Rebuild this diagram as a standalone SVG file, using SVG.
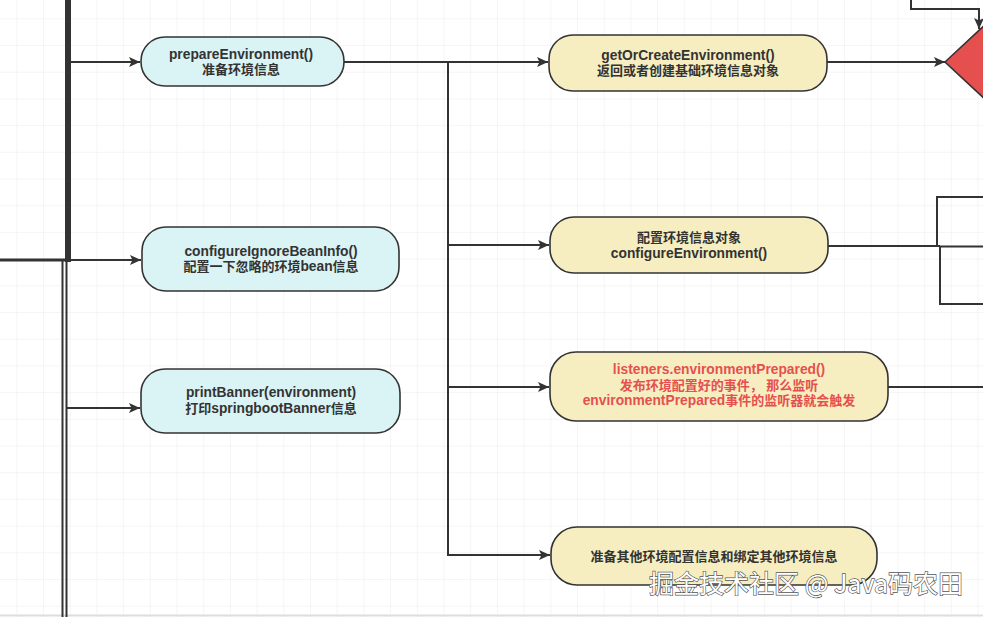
<svg xmlns="http://www.w3.org/2000/svg" width="983" height="617" viewBox="0 0 983 617">
<style>
.cn{fill:none;stroke:#333;stroke-width:2}
.blue{fill:#daf3f5;stroke:#333;stroke-width:1.6}
.yel{fill:#f6eec0;stroke:#333;stroke-width:1.6}
.t{font-family:"Liberation Sans","Noto Sans CJK SC",sans-serif;font-size:13px;font-weight:bold;fill:#333;text-anchor:middle}
.L{font-size:13.8px}
.red{fill:#e5504f}
.wm{font-family:"Noto Sans CJK SC",sans-serif;font-size:25px;fill:#fff;stroke:#555;stroke-width:1.3;paint-order:stroke}
</style>
<defs>
<pattern id="grid" width="26.7" height="26.7" patternUnits="userSpaceOnUse" patternTransform="translate(16.3 18.3)">
<path d="M0 0H26.7M0 0V26.7" fill="none" stroke="#ececec" stroke-width="1"/>
</pattern>
<marker id="ar" markerUnits="userSpaceOnUse" markerWidth="12" markerHeight="10" refX="11" refY="5" orient="auto">
<path d="M0 0L11 5L0 10L2.5 5Z" fill="#333"/>
</marker>
</defs>
<rect width="983" height="617" fill="#fff"/>
<rect width="983" height="617" fill="url(#grid)"/>
<line x1="0" y1="615.5" x2="983" y2="615.5" stroke="#ddd" stroke-width="2"/>

<g id="connectors">
<rect x="65" y="0" width="6" height="262" fill="#333"/>
<line x1="0" y1="260" x2="70" y2="260" stroke="#333" stroke-width="3"/>
<line x1="62.5" y1="259" x2="62.5" y2="617" stroke="#333" stroke-width="2"/>
<line x1="66.5" y1="259" x2="66.5" y2="617" stroke="#333" stroke-width="2"/>
<path class="cn" d="M71 62H140" marker-end="url(#ar)"/>
<path class="cn" d="M71 260H141" marker-end="url(#ar)"/>
<path class="cn" d="M67 408H140" marker-end="url(#ar)"/>
<path class="cn" d="M344 62H548" marker-end="url(#ar)"/>
<path class="cn" d="M448 62V555H550" marker-end="url(#ar)"/>
<path class="cn" d="M448 245H549" marker-end="url(#ar)"/>
<path class="cn" d="M448 387H549" marker-end="url(#ar)"/>
<path class="cn" d="M827 62H945" marker-end="url(#ar)"/>
<path class="cn" d="M911 0V9H979V29" marker-end="url(#ar)"/>
<path class="cn" d="M828 246H940"/>
<path class="cn" d="M937 246V197H983"/>
<path class="cn" d="M940 246V304H983"/>
<path class="cn" d="M940 246.5H983"/>
<path class="cn" d="M888 387H983"/>
</g>

<g id="diamond">
<polygon points="945,62 1003,8 1061,62 1003,116" fill="#e5504f" stroke="#333" stroke-width="1.6"/>
</g>

<g id="prepareEnvironment">
<rect class="blue" x="141" y="37" width="203" height="49" rx="24"/>
<text class="t L" x="241" y="59">prepareEnvironment()</text>
<text class="t" x="241" y="74">准备环境信息</text>
</g>
<g id="configureIgnoreBeanInfo">
<rect class="blue" x="142" y="227" width="257" height="64" rx="24"/>
<text class="t L" x="271" y="256">configureIgnoreBeanInfo()</text>
<text class="t" x="271" y="271">配置一下忽略的环境<tspan class="L">bean</tspan>信息</text>
</g>
<g id="printBanner">
<rect class="blue" x="141" y="369" width="259" height="64" rx="24"/>
<text class="t L" x="271" y="397">printBanner(environment)</text>
<text class="t" x="271" y="413">打印<tspan class="L">springbootBanner</tspan>信息</text>
</g>
<g id="getOrCreateEnvironment">
<rect class="yel" x="549" y="35" width="278" height="56" rx="24"/>
<text class="t L" x="688" y="60">getOrCreateEnvironment()</text>
<text class="t" x="688" y="75">返回或者创建基础环境信息对象</text>
</g>
<g id="configureEnvironment">
<rect class="yel" x="550" y="217" width="278" height="56" rx="24"/>
<text class="t" x="689" y="242">配置环境信息对象</text>
<text class="t L" x="689" y="258">configureEnvironment()</text>
</g>
<g id="environmentPrepared">
<rect class="yel" x="550" y="352" width="338" height="69" rx="26"/>
<text class="t L red" x="719" y="374">listeners.environmentPrepared()</text>
<text class="t red" x="719" y="390">发布环境配置好的事件， 那么监听</text>
<text class="t red" x="719" y="405"><tspan class="L">environmentPrepared</tspan>事件的监听器就会触发</text>
</g>
<g id="prepareOther">
<rect class="yel" x="551" y="527" width="326" height="58" rx="26"/>
<text class="t" x="714" y="561">准备其他环境配置信息和绑定其他环境信息</text>
</g>
<text class="wm" x="649" y="593" textLength="314">掘金技术社区 @ Java码农田</text>
</svg>
